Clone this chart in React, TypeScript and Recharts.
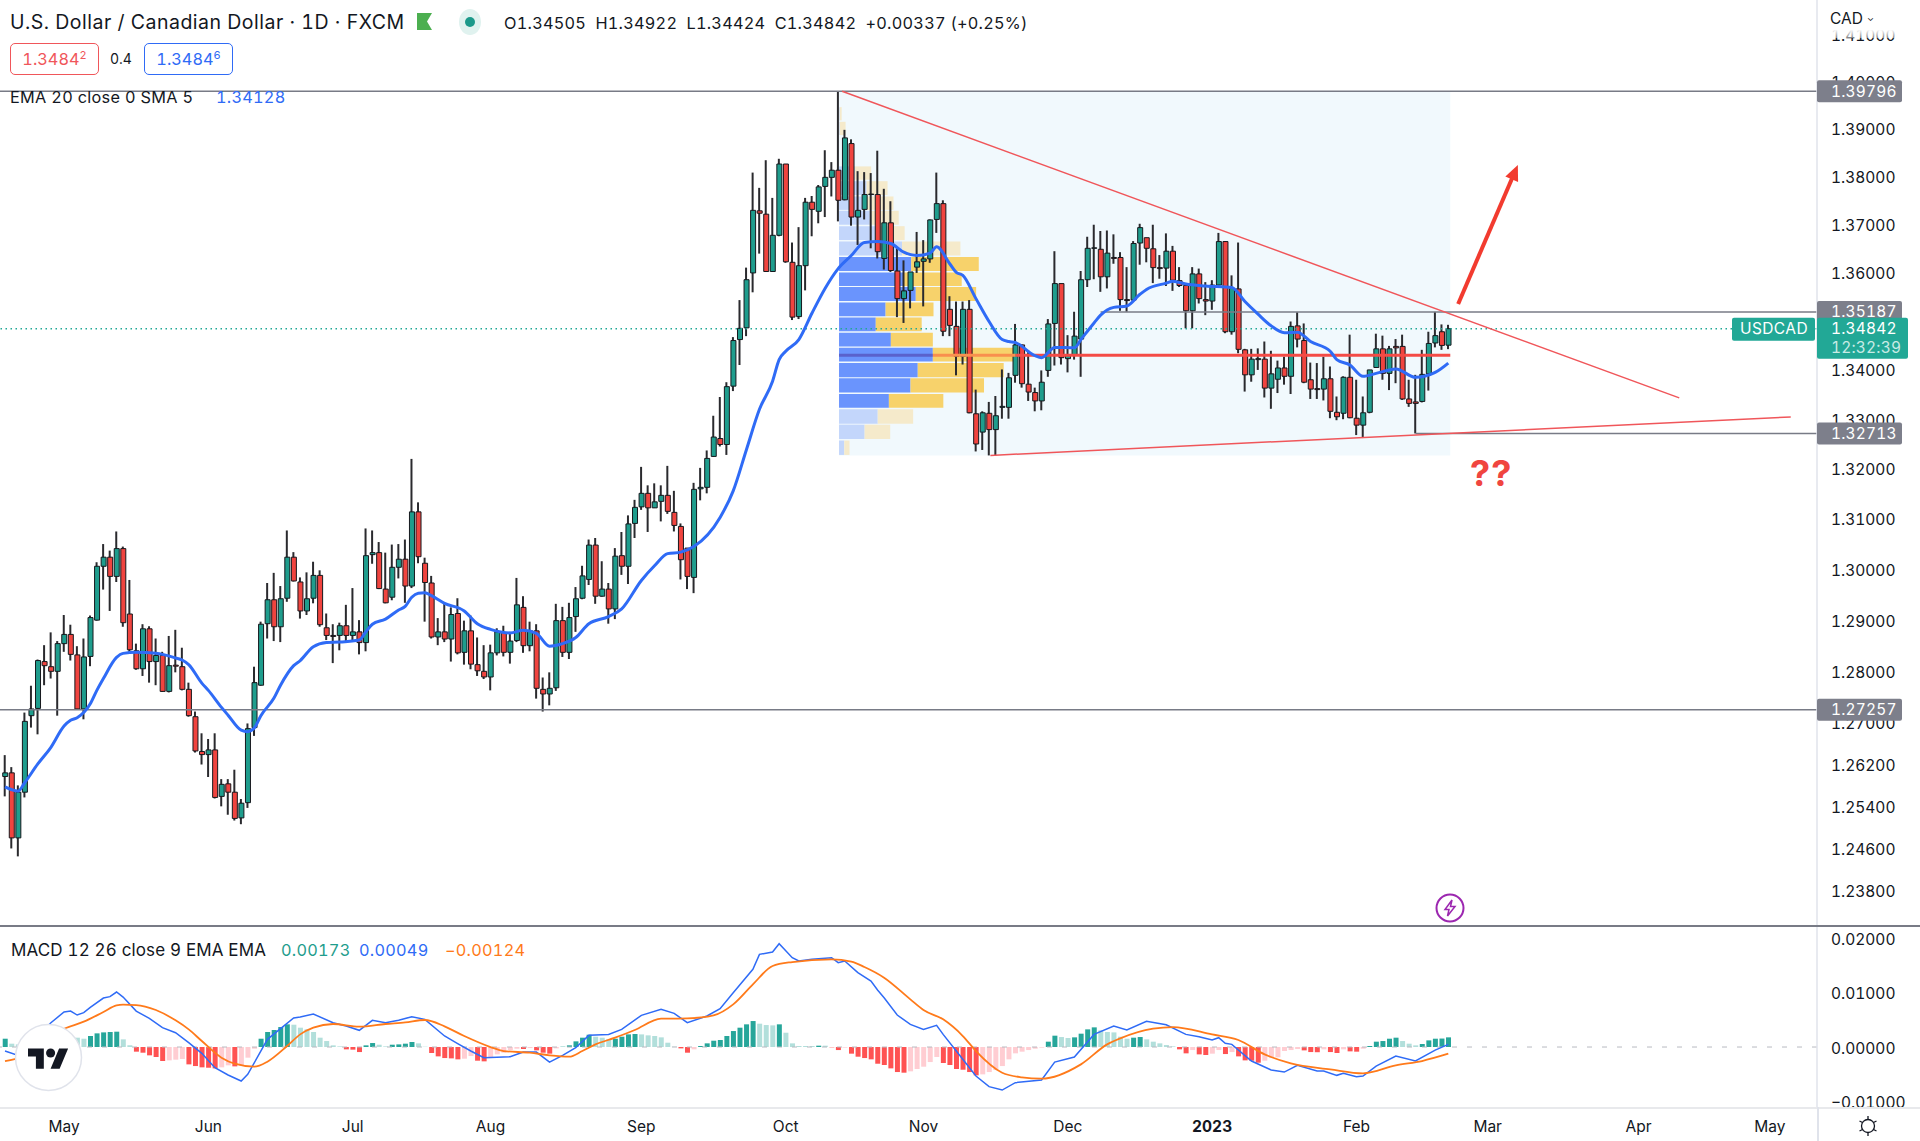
import { Bar, Cell, ComposedChart, Line, ReferenceArea, ReferenceLine, XAxis, YAxis } from "recharts";

// daily USD/CAD
const opens = [
  1.2597, 1.2604, 1.2480, 1.2567, 1.2714, 1.2728, 1.2819, 1.2809, 1.2800, 1.2854,
  1.2872, 1.2832, 1.2727, 1.2829, 1.2900, 1.3006, 1.3024, 1.2986, 1.3041, 1.2912,
  1.2840, 1.2805, 1.2883, 1.2819, 1.2831, 1.2761, 1.2812, 1.2809, 1.2765, 1.2712,
  1.2645, 1.2639, 1.2648, 1.2559, 1.2583, 1.2567, 1.2518, 1.2547, 1.2691, 1.2773,
  1.2893, 1.2940, 1.2887, 1.2943, 1.3024, 1.2975, 1.2918, 1.2943, 1.2988, 1.2885,
  1.2870, 1.2870, 1.2889, 1.2870, 1.2877, 1.2856, 1.3029, 1.3033, 1.2961, 1.2945,
  1.3004, 1.3020, 1.2967, 1.3114, 1.3012, 1.2973, 1.2867, 1.2877, 1.2863, 1.2913,
  1.2837, 1.2879, 1.2813, 1.2800, 1.2789, 1.2836, 1.2876, 1.2837, 1.2860, 1.2925,
  1.2850, 1.2879, 1.2765, 1.2756, 1.2768, 1.2899, 1.2837, 1.2907, 1.2943, 1.2980,
  1.3048, 1.2947, 1.2961, 1.2922, 1.3027, 1.3006, 1.3091, 1.3124, 1.3151, 1.3122,
  1.3135, 1.3147, 1.3113, 1.3085, 1.3042, 1.2984, 1.3160, 1.3163, 1.3225, 1.3261,
  1.3249, 1.3367, 1.3462, 1.3486, 1.3599, 1.3728, 1.3721, 1.3602, 1.3677, 1.3826,
  1.3621, 1.3509, 1.3614, 1.3746, 1.3727, 1.3779, 1.3798, 1.3813, 1.3751, 1.3869,
  1.3715, 1.3731, 1.3762, 1.3762, 1.3629, 1.3703, 1.3603, 1.3546, 1.3563, 1.3611,
  1.3623, 1.3628, 1.3710, 1.3743, 1.3524, 1.3489, 1.3428, 1.3524, 1.3311, 1.3274,
  1.3312, 1.3279, 1.3324, 1.3324, 1.3389, 1.3451, 1.3371, 1.3354, 1.3337, 1.3399,
  1.3495, 1.3577, 1.3423, 1.3431, 1.3463, 1.3585, 1.3650, 1.3648, 1.3591, 1.3631,
  1.3631, 1.3544, 1.3543, 1.3661, 1.3672, 1.3649, 1.3610, 1.3609, 1.3644, 1.3583,
  1.3573, 1.3521, 1.3597, 1.3544, 1.3541, 1.3574, 1.3664, 1.3478, 1.3566, 1.3441,
  1.3390, 1.3421, 1.3422, 1.3363, 1.3381, 1.3404, 1.3387, 1.3490, 1.3460, 1.3380,
  1.3362, 1.3361, 1.3382, 1.3314, 1.3312, 1.3385, 1.3302, 1.3288, 1.3314, 1.3405,
  1.3443, 1.3393, 1.3448, 1.3448, 1.3341, 1.3335, 1.3336, 1.3392, 1.3455, 1.3478,
  1.34505,
];
const highs = [
  1.2638, 1.2615, 1.2580, 1.2720, 1.2772, 1.2823, 1.2851, 1.2876, 1.2859, 1.2910,
  1.2891, 1.2849, 1.2864, 1.2909, 1.3014, 1.3050, 1.3037, 1.3075, 1.3045, 1.2979,
  1.2854, 1.2892, 1.2888, 1.2864, 1.2838, 1.2869, 1.2881, 1.2846, 1.2778, 1.2722,
  1.2680, 1.2669, 1.2680, 1.2592, 1.2592, 1.2610, 1.2554, 1.2699, 1.2809, 1.2897,
  1.2973, 1.2993, 1.2967, 1.3077, 1.3034, 1.2984, 1.2994, 1.3015, 1.2998, 1.2913,
  1.2892, 1.2895, 1.2930, 1.2963, 1.2900, 1.3081, 1.3077, 1.3054, 1.3033, 1.3049,
  1.3050, 1.3059, 1.3220, 1.3133, 1.3023, 1.2987, 1.2904, 1.2934, 1.2925, 1.2943,
  1.2899, 1.2909, 1.2866, 1.2851, 1.2852, 1.2884, 1.2889, 1.2877, 1.2983, 1.2947,
  1.2897, 1.2892, 1.2788, 1.2798, 1.2932, 1.2926, 1.2934, 1.2965, 1.3007, 1.3059,
  1.3062, 1.3016, 1.2973, 1.3042, 1.3074, 1.3107, 1.3138, 1.3204, 1.3167, 1.3171,
  1.3167, 1.3206, 1.3156, 1.3091, 1.3042, 1.3172, 1.3202, 1.3237, 1.3307, 1.3345,
  1.3375, 1.3467, 1.3543, 1.3610, 1.3808, 1.3776, 1.3834, 1.3755, 1.3837, 1.3826,
  1.3662, 1.3694, 1.3755, 1.3759, 1.3782, 1.3855, 1.3830, 1.39796, 1.3898, 1.3878,
  1.3811, 1.3809, 1.3807, 1.3854, 1.3774, 1.3748, 1.3650, 1.3625, 1.3601, 1.3684,
  1.3667, 1.3710, 1.3808, 1.3750, 1.3551, 1.3540, 1.3540, 1.3543, 1.3360, 1.3316,
  1.3335, 1.3347, 1.3401, 1.3394, 1.3494, 1.3452, 1.3440, 1.3364, 1.3399, 1.3504,
  1.3644, 1.3577, 1.3471, 1.3519, 1.3603, 1.3674, 1.3699, 1.3686, 1.3687, 1.3679,
  1.3642, 1.3611, 1.3665, 1.3701, 1.3672, 1.3699, 1.3636, 1.3681, 1.3655, 1.3611,
  1.3574, 1.3611, 1.3608, 1.3580, 1.3584, 1.3682, 1.3665, 1.3594, 1.3662, 1.3443,
  1.3443, 1.3444, 1.3458, 1.3439, 1.3419, 1.3427, 1.3499, 1.3518, 1.3495, 1.3415,
  1.3414, 1.3427, 1.3407, 1.3346, 1.3387, 1.3472, 1.3380, 1.3346, 1.3400, 1.3474,
  1.3470, 1.3449, 1.3463, 1.3472, 1.3380, 1.3390, 1.3441, 1.3478, 1.35187, 1.3493,
  1.34922,
];
const lows = [
  1.2559, 1.2460, 1.2445, 1.2557, 1.2691, 1.2678, 1.2773, 1.2786, 1.2714, 1.2838,
  1.2821, 1.2725, 1.2707, 1.2810, 1.2899, 1.2960, 1.2918, 1.2975, 1.2887, 1.2834,
  1.2803, 1.2791, 1.2778, 1.2773, 1.2760, 1.2759, 1.2798, 1.2763, 1.2712, 1.2643,
  1.2620, 1.2596, 1.2555, 1.2540, 1.2524, 1.2513, 1.2506, 1.2537, 1.2675, 1.2772,
  1.2864, 1.2859, 1.2857, 1.2936, 1.2976, 1.2903, 1.2910, 1.2933, 1.2887, 1.2861,
  1.2816, 1.2841, 1.2858, 1.2859, 1.2833, 1.2839, 1.3011, 1.2961, 1.2933, 1.2939,
  1.2982, 1.2934, 1.2963, 1.3012, 1.2897, 1.2864, 1.2851, 1.2857, 1.2819, 1.2833,
  1.2813, 1.2804, 1.2791, 1.2785, 1.2763, 1.2831, 1.2829, 1.2815, 1.2857, 1.2836,
  1.2839, 1.2747, 1.2722, 1.2734, 1.2762, 1.2828, 1.2824, 1.2877, 1.2941, 1.2969,
  1.2932, 1.2946, 1.2893, 1.2902, 1.2989, 1.2971, 1.3062, 1.3118, 1.3074, 1.3122,
  1.3095, 1.3110, 1.3075, 1.2980, 1.2961, 1.2953, 1.3137, 1.3151, 1.3224, 1.3245,
  1.3228, 1.3357, 1.3410, 1.3469, 1.3559, 1.3639, 1.3601, 1.3601, 1.3675, 1.3620,
  1.3502, 1.3504, 1.3563, 1.3675, 1.3702, 1.3715, 1.3758, 1.3706, 1.3750, 1.3697,
  1.3657, 1.3710, 1.3650, 1.3629, 1.3606, 1.3601, 1.3508, 1.3496, 1.3526, 1.3599,
  1.3530, 1.3620, 1.3682, 1.3469, 1.3469, 1.3389, 1.3411, 1.3312, 1.3235, 1.3238,
  1.3227, 1.3227, 1.3301, 1.3301, 1.3374, 1.3364, 1.3337, 1.3316, 1.3318, 1.3386,
  1.3409, 1.3411, 1.3395, 1.3421, 1.3386, 1.3570, 1.3586, 1.3560, 1.3567, 1.3618,
  1.3521, 1.3519, 1.3540, 1.3616, 1.3621, 1.3578, 1.3587, 1.3572, 1.3562, 1.3570,
  1.3485, 1.3485, 1.3536, 1.3512, 1.3523, 1.3569, 1.3475, 1.3472, 1.3434, 1.3356,
  1.3376, 1.3400, 1.3344, 1.3321, 1.3353, 1.3370, 1.3351, 1.3446, 1.3373, 1.3341,
  1.3341, 1.3338, 1.3302, 1.3298, 1.3300, 1.3302, 1.3268, 1.3262, 1.3312, 1.3404,
  1.3380, 1.3359, 1.3373, 1.3339, 1.3325, 1.32713, 1.3334, 1.3358, 1.3446, 1.3441,
  1.34424,
];
const closes = [
  1.2604, 1.2480, 1.2567, 1.2703, 1.2727, 1.2821, 1.2811, 1.2800, 1.2854, 1.2872,
  1.2833, 1.2727, 1.2828, 1.2905, 1.3006, 1.3024, 1.2986, 1.3041, 1.2895, 1.2842,
  1.2805, 1.2883, 1.2819, 1.2831, 1.2761, 1.2811, 1.2810, 1.2765, 1.2714, 1.2646,
  1.2639, 1.2648, 1.2557, 1.2582, 1.2567, 1.2517, 1.2546, 1.2689, 1.2778, 1.2892,
  1.2940, 1.2887, 1.2942, 1.3024, 1.2977, 1.2918, 1.2942, 1.2988, 1.2891, 1.2870,
  1.2868, 1.2889, 1.2870, 1.2877, 1.2856, 1.3027, 1.3033, 1.2962, 1.2934, 1.3004,
  1.3020, 1.2967, 1.3114, 1.3025, 1.2974, 1.2867, 1.2877, 1.2863, 1.2911, 1.2836,
  1.2879, 1.2814, 1.2801, 1.2789, 1.2836, 1.2877, 1.2837, 1.2859, 1.2930, 1.2850,
  1.2879, 1.2767, 1.2756, 1.2767, 1.2899, 1.2837, 1.2905, 1.2942, 1.2987, 1.3048,
  1.2947, 1.2961, 1.2922, 1.3026, 1.3006, 1.3090, 1.3123, 1.3151, 1.3122, 1.3134,
  1.3147, 1.3115, 1.3087, 1.3019, 1.2986, 1.3159, 1.3163, 1.3221, 1.3264, 1.3249,
  1.3366, 1.3460, 1.3485, 1.3585, 1.3729, 1.3723, 1.3602, 1.3677, 1.3826, 1.3622,
  1.3508, 1.3614, 1.3746, 1.3731, 1.3778, 1.3798, 1.3813, 1.3750, 1.3881, 1.3715,
  1.3729, 1.3762, 1.3763, 1.3643, 1.3703, 1.3604, 1.3546, 1.3562, 1.3601, 1.3622,
  1.3628, 1.3709, 1.3743, 1.3479, 1.3491, 1.3428, 1.3524, 1.3313, 1.3250, 1.3313,
  1.3279, 1.3307, 1.3326, 1.3384, 1.3451, 1.3372, 1.3355, 1.3337, 1.3375, 1.3494,
  1.3577, 1.3425, 1.3431, 1.3469, 1.3585, 1.3650, 1.3651, 1.3591, 1.3640, 1.3629,
  1.3544, 1.3542, 1.3660, 1.3693, 1.3650, 1.3610, 1.3608, 1.3644, 1.3584, 1.3573,
  1.3521, 1.3597, 1.3546, 1.3541, 1.3574, 1.3664, 1.3478, 1.3567, 1.3442, 1.3390,
  1.3422, 1.3423, 1.3363, 1.3392, 1.3404, 1.3387, 1.3489, 1.3463, 1.3375, 1.3361,
  1.3360, 1.3382, 1.3316, 1.3305, 1.3385, 1.3303, 1.3288, 1.3313, 1.3400, 1.3443,
  1.3393, 1.3443, 1.3445, 1.3341, 1.3332, 1.3332, 1.3391, 1.3454, 1.3470, 1.3450,
  1.34842,
];

// EMA 20, read at the bars where the curve bends: [bar, price]
const emaPoints = [
  [0, 1.2577], [2, 1.2569], [3, 1.2585], [5, 1.2621], [7, 1.2653], [9, 1.2694], [10, 1.2705], [11, 1.2710],
  [13, 1.2737], [14, 1.2763], [15, 1.2786], [17, 1.2827], [18, 1.2835], [20, 1.2837], [23, 1.2835], [26, 1.2826],
  [27, 1.2822], [28, 1.2813], [30, 1.2777], [31, 1.2763], [33, 1.2730], [34, 1.2715], [36, 1.2686], [37, 1.2683],
  [38, 1.2690], [39, 1.2714], [41, 1.2748], [42, 1.2773], [44, 1.2811], [45, 1.2821], [47, 1.2848], [49, 1.2856],
  [51, 1.2857], [54, 1.2861], [55, 1.2877], [56, 1.2892], [58, 1.2902], [60, 1.2920], [61, 1.2927], [62, 1.2945],
  [63, 1.2953], [64, 1.2954], [65, 1.2948], [67, 1.2933], [70, 1.2918], [72, 1.2893], [74, 1.2882], [77, 1.2875],
  [79, 1.2880], [81, 1.2874], [83, 1.2849], [85, 1.2854], [87, 1.2866], [89, 1.2893], [92, 1.2907], [94, 1.2922],
  [97, 1.2978], [99, 1.3007], [101, 1.3031], [103, 1.3034], [105, 1.3045], [109, 1.3103], [111, 1.3156], [113, 1.3238],
  [115, 1.3320], [117, 1.3377], [118, 1.3421], [119, 1.3438], [121, 1.3462], [123, 1.3516], [125, 1.3567], [127, 1.3608],
  [129, 1.3635], [131, 1.3662], [133, 1.3664], [135, 1.3660], [137, 1.3642], [139, 1.3635], [141, 1.3640], [142, 1.3653],
  [144, 1.3618], [145, 1.3600], [146, 1.3594], [148, 1.3546], [150, 1.3499], [152, 1.3462], [153, 1.3458], [154, 1.3456],
  [157, 1.3429], [158, 1.3425], [160, 1.3446], [163, 1.3445], [164, 1.3462], [166, 1.3496], [167, 1.3512], [169, 1.3528],
  [171, 1.3531], [173, 1.3555], [174, 1.3565], [177, 1.3578], [178, 1.3582], [180, 1.3576], [183, 1.3572], [187, 1.3569],
  [189, 1.3540], [191, 1.3514], [193, 1.3490], [195, 1.3476], [197, 1.3477], [199, 1.3458], [202, 1.3438], [203, 1.3421],
  [205, 1.3410], [207, 1.3387], [209, 1.3393], [212, 1.3402], [215, 1.3385], [218, 1.3395], [220, 1.3414],
];

// MACD pane
const macdPoints = [
  [0, -0.00074], [2, -0.00154], [7, 0.0045], [9, 0.00648], [10, 0.00666], [11, 0.00592], [12, 0.00636], [13, 0.00734],
  [15, 0.00907], [16, 0.00932], [17, 0.01018], [18, 0.00925], [20, 0.00666], [22, 0.00531], [24, 0.00358], [26, 0.00265],
  [28, 0.0008], [30, -0.00117], [32, -0.00383], [34, -0.00518], [36, -0.00629], [37, -0.00506], [40, 0.00142], [44, 0.00537],
  [45, 0.00555], [47, 0.00611], [50, 0.0045], [52, 0.00389], [54, 0.00309], [56, 0.00494], [58, 0.0045], [60, 0.00494],
  [62, 0.00561], [64, 0.00512], [67, 0.00204], [69, 0.00062], [71, -0.00074], [73, -0.00197], [77, -0.00179], [79, -0.00093],
  [81, -0.00093], [83, -0.00278], [85, -0.00154], [87, -0.00012], [89, 0.00216], [92, 0.00234], [94, 0.00327], [97, 0.00586],
  [100, 0.00697], [102, 0.00623], [104, 0.0045], [107, 0.00574], [109, 0.0071], [111, 0.01006], [114, 0.01438], [115, 0.01715],
  [117, 0.01758], [118, 0.01913], [120, 0.01654], [121, 0.01592], [123, 0.01623], [126, 0.01654], [127, 0.01561], [128, 0.01592],
  [130, 0.01376], [132, 0.01222], [133, 0.01055], [134, 0.00913], [136, 0.00592], [138, 0.0042], [140, 0.00327], [142, 0.00401],
  [143, 0.00234], [145, -0.00074], [148, -0.00537], [150, -0.00734], [152, -0.00796], [154, -0.0066], [158, -0.00611], [160, -0.00278],
  [163, -0.00185], [166, 0.00234], [169, 0.00389], [171, 0.00315], [174, 0.00475], [177, 0.00413], [180, 0.00234], [182, 0.00191],
  [184, 0.0013], [185, 0.00173], [186, 0.00068], [187, 0.00049], [190, -0.00259], [193, -0.00426], [195, -0.00463], [197, -0.00339],
  [200, -0.00444], [201, -0.00444], [203, -0.00524], [204, -0.00487], [206, -0.00549], [207, -0.00537], [209, -0.00352], [212, -0.00167],
  [215, -0.00259], [218, -0.00056], [220, 0.00049],
];
const signalPoints = [
  [0, -0.00259], [2, -0.00204], [9, 0.00339], [12, 0.00469], [15, 0.00648], [17, 0.00771], [18, 0.00784], [20, 0.00777],
  [23, 0.00685], [26, 0.00494], [28, 0.00327], [30, 0.00111], [33, -0.00197], [35, -0.00309], [38, -0.00364], [40, -0.00271],
  [43, 0.00019], [45, 0.00234], [47, 0.00358], [50, 0.00426], [54, 0.00376], [58, 0.00426], [61, 0.00457], [64, 0.005],
  [67, 0.00383], [70, 0.00204], [74, 0], [76, -0.00074], [80, -0.00105], [83, -0.00154], [86, -0.00179], [88, -0.00074],
  [90, 0.00049], [93, 0.00173], [96, 0.00315], [100, 0.00524], [104, 0.00531], [108, 0.00586], [111, 0.0079], [114, 0.0116],
  [117, 0.01499], [120, 0.01573], [126, 0.01623], [129, 0.0158], [131, 0.01481], [134, 0.01283], [138, 0.00882], [140, 0.00685],
  [143, 0.00512], [146, 0.00204], [148, -0.00074], [152, -0.00475], [155, -0.00561], [158, -0.00586], [164, -0.00321], [168, 0.00049],
  [170, 0.0016], [175, 0.00339], [178, 0.0037], [184, 0.00234], [188, 0.0013], [192, -0.00136], [196, -0.00302], [202, -0.00413],
  [207, -0.00487], [212, -0.00339], [216, -0.00259], [220, -0.00124],
];
const histValues = [
  0.00154, 0.00062, 0.00049, 0.00062, 0.00086, 0.00111, 0.00136, 0.0016, 0.00185, 0.00204,
  0.00185, 0.00173, 0.00154, 0.00204, 0.00253, 0.00271, 0.00278, 0.00284, 0.00142, 0.00031,
  -0.00086, -0.00105, -0.00154, -0.00185, -0.00259, -0.00247, -0.00234, -0.00222, -0.00321, -0.00352,
  -0.00376, -0.00383, -0.00395, -0.00376, -0.00339, -0.00358, -0.00346, -0.00197, -0.00031, 0.00154,
  0.00278, 0.00315, 0.0037, 0.0042, 0.00413, 0.00358, 0.00327, 0.00278, 0.00173, 0.00111,
  0.00031, 0.00012, -0.00043, -0.00049, -0.00093, 0.00031, 0.00074, 0.00043, 0.00012, 0.00043,
  0.00049, 0.00062, 0.00093, 0.00068, 0.00006, -0.00111, -0.00173, -0.00204, -0.0021, -0.00228,
  -0.00216, -0.00167, -0.00253, -0.00265, -0.00185, -0.00136, -0.00105, -0.00056, -0.00031, -0.00037,
  -0.00019, -0.00062, -0.00105, -0.00123, -0.00025, 0.00006, 0.00031, 0.00105, 0.00173, 0.00228,
  0.00191, 0.00173, 0.00142, 0.00154, 0.00191, 0.00234, 0.00241, 0.00234, 0.00216, 0.00204,
  0.00179, 0.0008, 0.00006, -0.00025, -0.00105, -0.00043, 0.00019, 0.00068, 0.00117, 0.0013,
  0.00204, 0.00296, 0.00358, 0.0042, 0.00481, 0.00432, 0.00407, 0.00401, 0.0042, 0.00265,
  0.00068, 0.00019, 0.00019, 0.00019, 0.00025, 0.00025, -0.00006, -0.00056, -0.00012, -0.00123,
  -0.00179, -0.00204, -0.00228, -0.00309, -0.00333, -0.00395, -0.00463, -0.00475, -0.0045, -0.00407,
  -0.00364, -0.00278, -0.00185, -0.00296, -0.00333, -0.00407, -0.0042, -0.00463, -0.00524, -0.00506,
  -0.00463, -0.00426, -0.00352, -0.00228, -0.00117, -0.00086, -0.00056, -0.00031, -0.00012, 0.00099,
  0.0021, 0.00185, 0.00167, 0.00179, 0.00247, 0.00327, 0.00364, 0.00309, 0.00278, 0.00271,
  0.00191, 0.00154, 0.00173, 0.00185, 0.00142, 0.00099, 0.00068, 0.00037, 0.00012, -0.00043,
  -0.00117, -0.00056, -0.00136, -0.00148, -0.00123, -0.00056, -0.0013, -0.00093, -0.00173, -0.00247,
  -0.00253, -0.0029, -0.00253, -0.00197, -0.00191, -0.00074, -0.00056, -0.00037, -0.00062, -0.00093,
  -0.00096, -0.00043, -0.00093, -0.00111, -0.00043, -0.0008, -0.00086, -0.00031, 0.00019, 0.00099,
  0.00111, 0.00154, 0.00173, 0.00111, 0.00062, 0.00031, 0.00056, 0.00123, 0.00154, 0.00157,
  0.00179,
];

// volume profile rows, bottom to top: price band and buy / sell volume (in bars of width)
const profileLow = [1.3228, 1.326, 1.3291, 1.3323, 1.3354, 1.3385, 1.3417, 1.3448, 1.3479, 1.351, 1.3541, 1.3572, 1.3603, 1.3635, 1.3667, 1.3699, 1.373, 1.3761, 1.3793, 1.3887, 1.3918];
const profileHigh = [1.3257, 1.3289, 1.332, 1.3351, 1.3383, 1.3414, 1.3445, 1.3476, 1.3507, 1.3538, 1.357, 1.36, 1.3632, 1.3664, 1.3696, 1.3728, 1.3758, 1.379, 1.3821, 1.3915, 1.3946];
const profileBuy = [0.8, 3.9, 5.9, 7.6, 10.9, 12, 14.3, 7.9, 5.6, 7.1, 11.7, 9.8, 11, 9.6, 6.2, 4.7, 3.7, 4.2, 2.4, 0.1, 0.1];
const profileSell = [0.8, 3.9, 5.4, 8.3, 11.2, 13.1, 12.6, 6.4, 7, 7.3, 9.2, 8.9, 10.3, 8.9, 3.8, 4.4, 4.6, 3.2, 2.5, 0.9, 0.3];
const profileStart = 127.13;
const profileEnd = 220.3;
const pocPrice = 1.343;
const pocBuy = 14.3;
const pocSell = 12.6;

const priceTicks = [1.41, 1.4, 1.39, 1.38, 1.37, 1.36, 1.34, 1.33, 1.32, 1.31, 1.3, 1.29, 1.28, 1.27, 1.262, 1.254, 1.246, 1.238];
const macdTicks = [0.02, 0.01, 0, -0.01];
const monthBars = [9, 31, 53, 74, 97, 119, 140, 162, 184, 206, 226, 249, 269];
const monthLabels = ["May", "Jun", "Jul", "Aug", "Sep", "Oct", "Nov", "Dec", "2023", "Feb", "Mar", "Apr", "May"];

const TEAL = "#1f9d8d";
const RED = "#f0443f";
const TEXT = "#131722";
const FONT = "Inter, sans-serif";
const xDomain = [-0.762, 276.2];
const priceDomain = [1.2314, 1.4175];
const macdDomain = [-0.0111, 0.0224];

const emaByBar = new Map(emaPoints.map(([b, v]) => [b, v]));
const macdByBar = new Map(macdPoints.map(([b, v]) => [b, v]));
const signalByBar = new Map(signalPoints.map(([b, v]) => [b, v]));

const candles = opens.map((o, i) => ({
  bar: i,
  up: closes[i] >= o,
  wick: [lows[i], highs[i]],
  body: [Math.min(o, closes[i]), Math.max(o, closes[i])],
  ema: emaByBar.get(i) ?? null,
}));
const macdRows = histValues.map((h, i) => ({
  bar: i,
  hist: h,
  macd: macdByBar.get(i) ?? null,
  signal: signalByBar.get(i) ?? null,
}));

const histColor = (i: number) => {
  const h = histValues[i];
  const prev = i > 0 ? histValues[i - 1] : 0;
  if (h >= 0) return h > prev ? "#26a69a" : "#b2dfdb";
  return h < prev ? "#ff5252" : "#ffcdd2";
};

const PriceTag = ({ viewBox, text }: any) => {
  const right = viewBox.x + viewBox.width;
  return (
    <g>
      <rect x={right} y={viewBox.y - 11} width={85} height={22} rx={2} fill="#7d7f8b" />
      <text x={right + 14} y={viewBox.y + 5.5} fill="#fff" fontSize={15.5} fontFamily={FONT} letterSpacing={0.2}>
        {text}
      </text>
    </g>
  );
};

const CurrentTag = ({ viewBox }: any) => {
  const right = viewBox.x + viewBox.width;
  return (
    <g>
      <rect x={right - 85} y={viewBox.y - 11} width={83} height={23} rx={2} fill="#22a896" />
      <text x={right - 77} y={viewBox.y + 5.5} fill="#fff" fontSize={15.5} fontFamily={FONT} letterSpacing={0.4}>
        USDCAD
      </text>
      <rect x={right} y={viewBox.y - 11} width={91} height={41} rx={2} fill="#22a896" />
      <text x={right + 14} y={viewBox.y + 5.5} fill="#fff" fontSize={15.5} fontFamily={FONT} letterSpacing={0.2}>
        1.34842
      </text>
      <text x={right + 14} y={viewBox.y + 24.5} fill="#c8ebe5" fontSize={15.5} fontFamily={FONT} letterSpacing={0.2}>
        12:32:39
      </text>
    </g>
  );
};

const ArrowShape = ({ x1, y1, x2, y2 }: any) => {
  const a = Math.atan2(y2 - y1, x2 - x1);
  const head = 17;
  const p1 = [x2 - head * Math.cos(a - 0.42), y2 - head * Math.sin(a - 0.42)];
  const p2 = [x2 - head * Math.cos(a + 0.42), y2 - head * Math.sin(a + 0.42)];
  return (
    <g>
      <line x1={x1} y1={y1} x2={x2 - 8 * Math.cos(a)} y2={y2 - 8 * Math.sin(a)} stroke="#f23b2f" strokeWidth={4} />
      <polygon points={`${x2},${y2} ${p1.join(",")} ${p2.join(",")}`} fill="#f23b2f" />
    </g>
  );
};

const MonthTick = ({ x, y, payload }: any) => {
  const label = monthLabels[monthBars.indexOf(payload.value)];
  return (
    <text x={x} y={y + 7} textAnchor="middle" fill={TEXT} fontSize={15.5} fontFamily={FONT} fontWeight={label === "2023" ? 700 : 400}>
      {label}
    </text>
  );
};

const abs = (left: number, top: number, extra: any = {}) => ({ position: "absolute", left, top, whiteSpace: "nowrap", ...extra });

export default function App() {
  return (
    <div
      style={{
        position: "absolute",
        left: 0,
        top: 0,
        width: 1920,
        height: 1141,
        overflow: "hidden",
        background: "#fff",
        fontFamily: FONT,
        color: TEXT,
        fontVariantNumeric: "tabular-nums",
      }}
    >
      <div style={abs(0, 0)}>
        <ComposedChart width={1920} height={926} data={candles} margin={{ top: 0, right: 0, bottom: 0, left: 0 }} barGap={0}>
          <XAxis xAxisId="wick" type="number" dataKey="bar" domain={xDomain} allowDataOverflow hide />
          <XAxis xAxisId="body" type="number" dataKey="bar" domain={xDomain} allowDataOverflow hide />
          <YAxis
            orientation="right"
            width={103}
            scale="log"
            domain={priceDomain}
            allowDataOverflow
            ticks={priceTicks}
            interval={0}
            tickLine={false}
            tickMargin={8}
            axisLine={{ stroke: "#e0e3eb", strokeWidth: 1.5 }}
            tick={{ fill: TEXT, fontSize: 15.5, fontFamily: FONT, dy: 1 }}
            tickFormatter={(v: number) => v.toFixed(5)}
          />
          <ReferenceArea xAxisId="body" x1={profileStart} x2={profileEnd} y1={1.3227} y2={1.39796} fill="#f1f9fd" fillOpacity={1} stroke="none" />
          {profileBuy.map((b, i) => {
            const strong = i >= 3 && i <= 12;
            return (
              <ReferenceArea
                key={"buy" + i}
                xAxisId="body"
                x1={profileStart}
                x2={profileStart + b}
                y1={profileLow[i]}
                y2={profileHigh[i]}
                fill={strong ? "#6a94fd" : "#c3d6fb"}
                fillOpacity={1}
                stroke="none"
              />
            );
          })}
          {profileSell.map((s, i) => {
            const strong = i >= 3 && i <= 12;
            return (
              <ReferenceArea
                key={"sell" + i}
                xAxisId="body"
                x1={profileStart + profileBuy[i]}
                x2={profileStart + profileBuy[i] + s}
                y1={profileLow[i]}
                y2={profileHigh[i]}
                fill={strong ? "#f7d26b" : "#f5eacb"}
                fillOpacity={1}
                stroke="none"
              />
            );
          })}
          <ReferenceLine xAxisId="body" y={1.39796} stroke="#787b86" strokeWidth={1.5} />
          <ReferenceLine xAxisId="body" y={1.27257} stroke="#787b86" strokeWidth={1.5} />
          <ReferenceLine xAxisId="body" segment={[{ x: 167, y: 1.35187 }, { x: 276.2, y: 1.35187 }]} stroke="#787b86" strokeWidth={1.5} />
          <ReferenceLine xAxisId="body" segment={[{ x: 215, y: 1.32713 }, { x: 276.2, y: 1.32713 }]} stroke="#787b86" strokeWidth={1.5} />
          <ReferenceLine xAxisId="body" y={1.34842} stroke="#22a896" strokeWidth={1.5} strokeDasharray="1.5 3.5" />
          <ReferenceLine xAxisId="body" segment={[{ x: profileStart, y: pocPrice }, { x: profileStart + pocBuy, y: pocPrice }]} stroke="#5a62cc" strokeWidth={3} />
          <ReferenceLine xAxisId="body" segment={[{ x: profileStart + pocBuy, y: pocPrice }, { x: profileStart + pocBuy + pocSell, y: pocPrice }]} stroke="#f98f4e" strokeWidth={3} />
          <ReferenceLine xAxisId="body" segment={[{ x: profileStart + pocBuy + pocSell, y: pocPrice }, { x: profileEnd, y: pocPrice }]} stroke="#f44b46" strokeWidth={3} />
          <Bar xAxisId="wick" dataKey="wick" barSize={2} fill="#2a2a2e" isAnimationActive={false} />
          <Bar xAxisId="body" dataKey="body" barSize={5} stroke="#16181d" strokeWidth={1} isAnimationActive={false}>
            {candles.map((c) => (
              <Cell key={c.bar} fill={c.up ? TEAL : RED} />
            ))}
          </Bar>
          <Line xAxisId="body" dataKey="ema" type="monotone" connectNulls stroke="#2f6bf6" strokeWidth={3} dot={false} isAnimationActive={false} />
          <ReferenceLine xAxisId="body" segment={[{ x: 127.6, y: 1.39796 }, { x: 255.2, y: 1.33432 }]} stroke="#f0565a" strokeWidth={1.5} />
          <ReferenceLine xAxisId="body" segment={[{ x: 150.2, y: 1.3227 }, { x: 272.2, y: 1.33047 }]} stroke="#f0565a" strokeWidth={1.5} />
          <ReferenceLine xAxisId="body" segment={[{ x: 221.5, y: 1.35351 }, { x: 230.6, y: 1.38241 }]} shape={ArrowShape} />
        </ComposedChart>
      </div>

      <div style={abs(0, 926)}>
        <ComposedChart width={1920} height={215} data={macdRows} margin={{ top: 0, right: 0, bottom: 0, left: 0 }}>
          <XAxis
            type="number"
            dataKey="bar"
            domain={xDomain}
            allowDataOverflow
            ticks={monthBars}
            interval={0}
            height={34}
            tickLine={false}
            tickMargin={12}
            axisLine={false}
            tick={<MonthTick />}
          />
          <YAxis
            orientation="right"
            width={103}
            domain={macdDomain}
            allowDataOverflow
            ticks={macdTicks}
            interval={0}
            tickLine={false}
            tickMargin={8}
            axisLine={{ stroke: "#e0e3eb", strokeWidth: 1.5 }}
            tick={{ fill: TEXT, fontSize: 15.5, fontFamily: FONT, dy: 1 }}
            tickFormatter={(v: number) => v.toFixed(5).replace("-", "−")}
          />
          <ReferenceLine y={0} stroke="#b8bac2" strokeDasharray="5 10" />
          <Bar dataKey="hist" barSize={5} isAnimationActive={false}>
            {macdRows.map((r) => (
              <Cell key={r.bar} fill={histColor(r.bar)} />
            ))}
          </Bar>
          <Line dataKey="macd" connectNulls stroke="#2f6bf6" strokeWidth={1.5} dot={false} isAnimationActive={false} />
          <Line dataKey="signal" type="monotone" connectNulls stroke="#ff7a1a" strokeWidth={1.8} dot={false} isAnimationActive={false} />
        </ComposedChart>
      </div>

      {/* pane borders */}
      <div style={abs(0, 925, { width: 1920, height: 2, background: "#787b86" })} />
      <div style={abs(0, 1107, { width: 1920, height: 2, background: "#e8e9ec" })} />
      <div style={abs(1817, 1107, { width: 1.5, height: 34, background: "#e0e3eb" })} />
      <div style={abs(1819, 0, { width: 101, height: 38, background: "linear-gradient(#fff 78%, rgba(255,255,255,0.45))" })} />

      {/* axis tags sit on top of the tick labels, so they get a chart of their own */}
      <div style={abs(0, 0)}>
        <ComposedChart width={1920} height={926} data={candles} margin={{ top: 0, right: 0, bottom: 0, left: 0 }}>
          <XAxis type="number" dataKey="bar" domain={xDomain} allowDataOverflow hide />
          <YAxis orientation="right" width={103} scale="log" domain={priceDomain} allowDataOverflow tick={false} tickLine={false} axisLine={false} />
          <ReferenceLine y={1.39796} stroke="none" label={<PriceTag text="1.39796" />} />
          <ReferenceLine y={1.35187} stroke="none" label={<PriceTag text="1.35187" />} />
          <ReferenceLine y={1.34842} stroke="none" label={<CurrentTag />} />
          <ReferenceLine y={1.32713} stroke="none" label={<PriceTag text="1.32713" />} />
          <ReferenceLine y={1.27257} stroke="none" label={<PriceTag text="1.27257" />} />
        </ComposedChart>
      </div>

      {/* header */}
      <div style={abs(10, 10, { fontSize: 19.5, letterSpacing: 0.5 })}>U.S. Dollar / Canadian Dollar · 1D · FXCM</div>
      <svg style={abs(417, 13) as any} width={16} height={18}>
        <path d="M0 0H15L10 8.5L15 17H0Z" fill="#4caf50" />
      </svg>
      <svg style={abs(458, 8) as any} width={24} height={28}>
        <ellipse cx={12} cy={14} rx={11} ry={13} fill="#e0f2ef" />
        <circle cx={12} cy={14} r={5} fill="#1c998a" />
      </svg>
      <div style={abs(504, 13, { fontSize: 16.3, letterSpacing: 0.25 })}>O1.34505 &nbsp;H1.34922 &nbsp;L1.34424 &nbsp;C1.34842 &nbsp;+0.00337 (+0.25%)</div>
      <div style={abs(10, 43, { width: 87, height: 30, border: "1px solid #f0565a", borderRadius: 5, color: "#f0565a", fontSize: 16.3, textAlign: "center", lineHeight: "30px" })}>
        1.3484<sup style={{ fontSize: 11, lineHeight: 0 }}>2</sup>
      </div>
      <div style={abs(110, 50, { fontSize: 14 })}>0.4</div>
      <div style={abs(144, 43, { width: 87, height: 30, border: "1px solid #2f6bf6", borderRadius: 5, color: "#2f6bf6", fontSize: 16.3, textAlign: "center", lineHeight: "30px" })}>
        1.3484<sup style={{ fontSize: 11, lineHeight: 0 }}>6</sup>
      </div>
      <div style={abs(10, 87, { fontSize: 16.3, letterSpacing: 0.3 })}>EMA 20 close 0 SMA 5</div>
      <div style={abs(216, 87, { fontSize: 16.3, color: "#2f6bf6", letterSpacing: 0.25 })}>1.34128</div>
      <div style={abs(1830, 9, { fontSize: 15.5 })}>
        CAD <span style={{ fontSize: 9, verticalAlign: 3 }}>⌄</span>
      </div>
      <div style={abs(1470, 451, { fontSize: 36, fontWeight: 700, color: "#f0453f", letterSpacing: 1 })}>??</div>

      {/* MACD legend */}
      <div style={abs(11, 940, { fontSize: 17, letterSpacing: 0.15 })}>MACD 12 26 close 9 EMA EMA</div>
      <div style={abs(281, 940, { fontSize: 16.3, color: "#1f9d8d", letterSpacing: 0.25 })}>0.00173</div>
      <div style={abs(359, 940, { fontSize: 16.3, color: "#2f6bf6", letterSpacing: 0.25 })}>0.00049</div>
      <div style={abs(445, 940, { fontSize: 16.3, color: "#ff7a1a", letterSpacing: 0.25 })}>−0.00124</div>

      {/* logo, replay marker, settings */}
      <svg style={abs(14, 1023) as any} width={69} height={69}>
        <circle cx={34.5} cy={34.5} r={33} fill="#fff" stroke="#e0e3eb" strokeWidth={1.5} />
        <g transform="translate(14,21) scale(1.13)" fill="#131722">
          <path d="M14 22H7V11H0V4h14v18zM28 22h-8l7.5-18h8L28 22z" />
          <circle cx={20} cy={8} r={4} />
        </g>
      </svg>
      <svg style={abs(1434, 892) as any} width={32} height={32}>
        <circle cx={16} cy={16} r={13.5} fill="#fff" stroke="#9c27b0" strokeWidth={2} />
        <path d="M18 8L11 17.5H15L13.5 24L21 14.5H16.5Z" fill="none" stroke="#9c27b0" strokeWidth={1.5} />
      </svg>
      <svg style={abs(1857, 1115) as any} width={22} height={22}>
        <circle cx={11} cy={11} r={6.5} fill="none" stroke={TEXT} strokeWidth={1.3} />
        <path d="M11 1V4.5M11 17.5V21M2.5 6L5.5 7.5M16.5 14.5L19.5 16M2.5 16L5.5 14.5M16.5 7.5L19.5 6" stroke={TEXT} strokeWidth={1.3} />
      </svg>
    </div>
  );
}
